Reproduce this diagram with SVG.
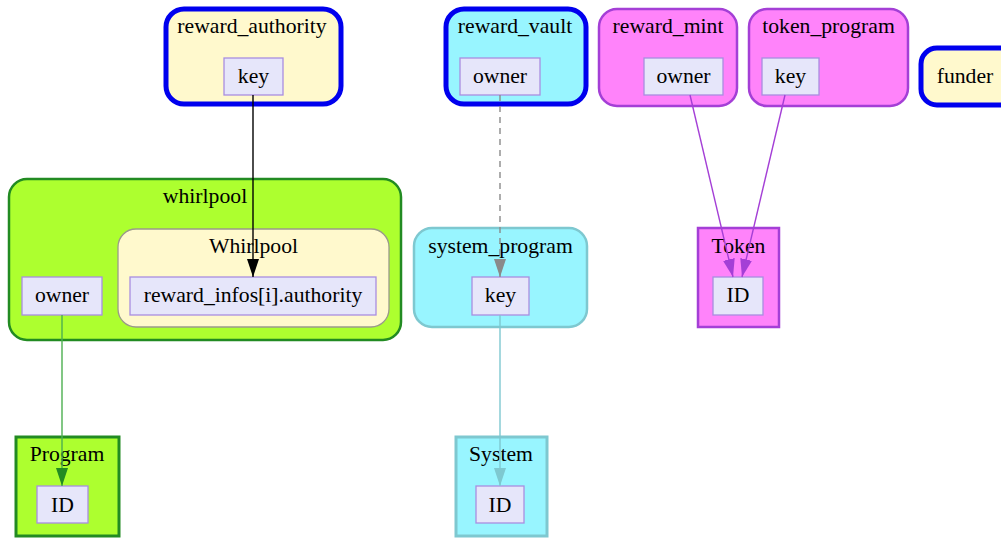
<svg xmlns="http://www.w3.org/2000/svg" width="1001" height="538" viewBox="0 0 1001 538">
  <style>
    text { font-family: "Liberation Serif", "Times New Roman", serif; font-size: 21.7px; fill: #000; text-anchor: middle; }
    .field { fill: #e6e6fa; stroke: #a98ee0; stroke-width: 1.3; }
    .signer { stroke: #0000ee; stroke-width: 5; }
    .lemon { fill: #fff9cd; }
    .cyan { fill: #98f5ff; }
    .pink { fill: #ff83fa; stroke: #a43fd6; stroke-width: 2.5; }
    .edge { fill: none; stroke-width: 1.4; }
  </style>
  <defs>
    <marker id="ah-black" viewBox="0 0 18 12" refX="18" refY="6" markerWidth="18" markerHeight="12" markerUnits="userSpaceOnUse" orient="auto"><path d="M0,0 L18,6 L0,12 z" fill="#000"/></marker>
    <marker id="ah-grey" viewBox="0 0 18 12" refX="18" refY="6" markerWidth="18" markerHeight="12" markerUnits="userSpaceOnUse" orient="auto"><path d="M0,0 L18,6 L0,12 z" fill="#8a8a8a"/></marker>
    <marker id="ah-purple" viewBox="0 0 18 12" refX="18" refY="6" markerWidth="18" markerHeight="12" markerUnits="userSpaceOnUse" orient="auto"><path d="M0,0 L18,6 L0,12 z" fill="#a43fd6"/></marker>
    <marker id="ah-green" viewBox="0 0 18 12" refX="18" refY="6" markerWidth="18" markerHeight="12" markerUnits="userSpaceOnUse" orient="auto"><path d="M0,0 L18,6 L0,12 z" fill="#228b22"/></marker>
    <marker id="ah-teal" viewBox="0 0 18 12" refX="18" refY="6" markerWidth="18" markerHeight="12" markerUnits="userSpaceOnUse" orient="auto"><path d="M0,0 L18,6 L0,12 z" fill="#7ec8d0"/></marker>
  </defs>

  <!-- signer: reward_authority -->
  <g id="reward_authority">
    <rect x="166" y="9" width="175" height="95" rx="18" class="lemon signer"/>
    <text x="252" y="33">reward_authority</text>
    <rect x="224" y="58" width="59" height="37" class="field"/>
    <text x="253.5" y="83">key</text>
  </g>

  <!-- signer: reward_vault -->
  <g id="reward_vault">
    <rect x="446" y="9" width="140" height="95" rx="18" class="cyan signer"/>
    <text x="515" y="33">reward_vault</text>
    <rect x="460" y="58" width="80" height="37" class="field"/>
    <text x="500" y="83">owner</text>
  </g>

  <!-- reward_mint -->
  <g id="reward_mint">
    <rect x="599" y="9" width="138" height="97" rx="18" class="pink"/>
    <text x="668" y="33">reward_mint</text>
    <rect x="644" y="58" width="79" height="37" class="field"/>
    <text x="683.5" y="83">owner</text>
  </g>

  <!-- token_program -->
  <g id="token_program">
    <rect x="749" y="9" width="159" height="97" rx="18" class="pink"/>
    <text x="828.5" y="33">token_program</text>
    <rect x="762" y="58" width="57" height="37" class="field"/>
    <text x="790.5" y="83">key</text>
  </g>

  <!-- signer: funder -->
  <g id="funder">
    <rect x="921" y="48" width="95" height="57" rx="16" class="lemon signer"/>
    <text x="965" y="83">funder</text>
  </g>

  <!-- whirlpool account -->
  <g id="whirlpool">
    <rect x="9" y="179" width="392" height="161" rx="18" fill="#adff2f" stroke="#228b22" stroke-width="2.5"/>
    <text x="205" y="203">whirlpool</text>
    <rect x="22" y="277" width="80" height="38" class="field"/>
    <text x="62" y="302">owner</text>
    <g id="Whirlpool">
      <rect x="118" y="229" width="271" height="98" rx="18" fill="#fff9cd" stroke="#9a9a8a" stroke-width="1.3"/>
      <text x="253.5" y="253">Whirlpool</text>
      <rect x="130" y="277" width="246" height="38" class="field"/>
      <text x="253" y="302">reward_infos[i].authority</text>
    </g>
  </g>

  <!-- system_program -->
  <g id="system_program">
    <rect x="414" y="228" width="173" height="99" rx="18" fill="#98f5ff" stroke="#7ec8d0" stroke-width="2.5"/>
    <text x="500.5" y="253">system_program</text>
    <rect x="472" y="277" width="57" height="38" class="field"/>
    <text x="500.5" y="302">key</text>
  </g>

  <!-- Token program -->
  <g id="Token">
    <rect x="698" y="228" width="81" height="99" class="pink" stroke-width="3"/>
    <text x="738.5" y="253">Token</text>
    <rect x="713" y="277" width="50" height="38" class="field"/>
    <text x="738" y="302">ID</text>
  </g>

  <!-- Program -->
  <g id="Program">
    <rect x="16" y="437" width="103" height="99" fill="#adff2f" stroke="#228b22" stroke-width="3"/>
    <text x="67" y="461">Program</text>
    <rect x="37" y="486" width="51" height="37" class="field"/>
    <text x="62.5" y="512">ID</text>
  </g>

  <!-- System -->
  <g id="System">
    <rect x="456" y="437" width="91" height="99" fill="#98f5ff" stroke="#7ec8d0" stroke-width="3"/>
    <text x="501" y="461">System</text>
    <rect x="476" y="486" width="48" height="37" class="field"/>
    <text x="500" y="512">ID</text>
  </g>

  <!-- connectors -->
  <g id="edges">
    <path d="M253,95 L253,277" class="edge" stroke="#000" stroke-width="1.8" marker-end="url(#ah-black)"/>
    <path d="M500,95 L500,277" class="edge" stroke="#8a8a8a" stroke-dasharray="6,5" marker-end="url(#ah-grey)"/>
    <path d="M690,95 L733,277" class="edge" stroke="#a43fd6" marker-end="url(#ah-purple)"/>
    <path d="M785,95 L742,277" class="edge" stroke="#a43fd6" marker-end="url(#ah-purple)"/>
    <path d="M62,315 L62,486" class="edge" stroke="#4caf50" marker-end="url(#ah-green)"/>
    <path d="M500,315 L500,486" class="edge" stroke="#7ec8d0" marker-end="url(#ah-teal)"/>
  </g>
</svg>
